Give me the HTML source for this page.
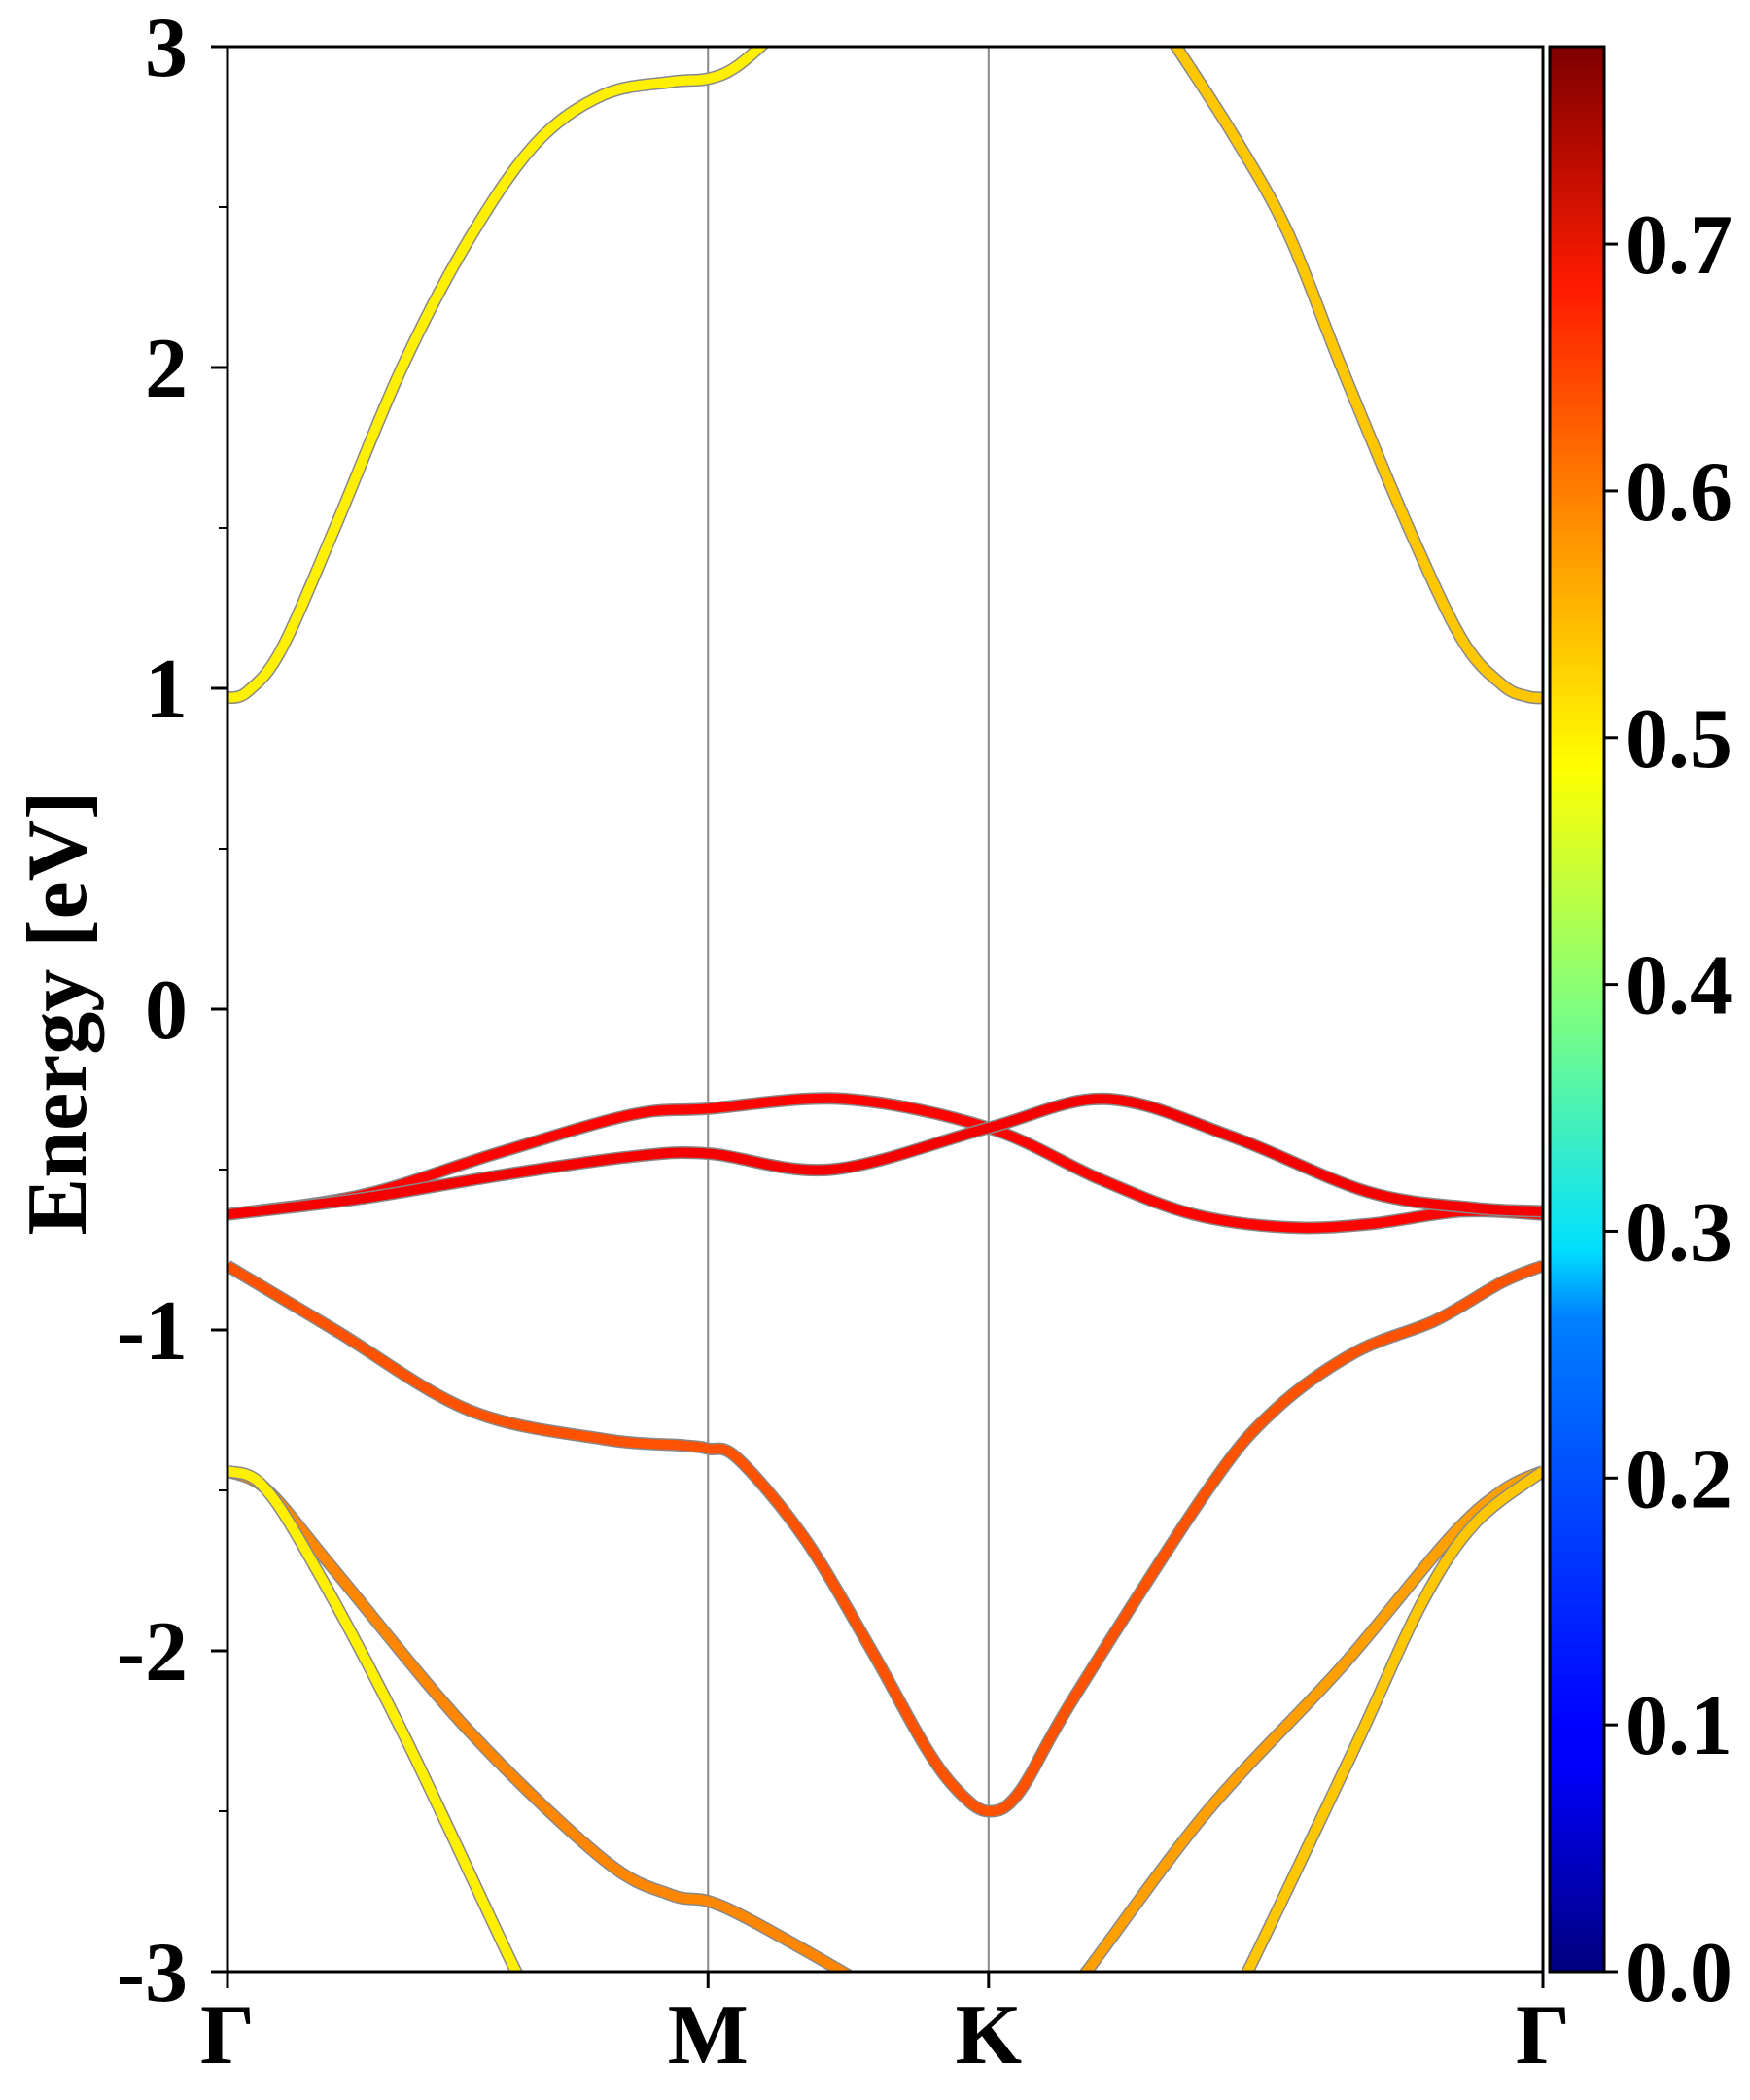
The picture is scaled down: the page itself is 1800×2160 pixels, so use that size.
<!DOCTYPE html>
<html><head><meta charset="utf-8"><style>
html,body{margin:0;padding:0;background:#fff;width:1800px;height:2160px;overflow:hidden}
svg{display:block}
text{font-family:"Liberation Serif",serif;font-weight:bold;fill:#000}
</style></head><body>
<svg id="chart" width="1800" height="2160" viewBox="0 0 1800 2160" xmlns="http://www.w3.org/2000/svg">
<defs>
<linearGradient id="jet" x1="0" y1="1" x2="0" y2="0">
<stop offset="0" stop-color="#00007f"/><stop offset="0.11" stop-color="#0000ff"/>
<stop offset="0.125" stop-color="#0000ff"/><stop offset="0.34" stop-color="#0080ff"/>
<stop offset="0.375" stop-color="#00e0ff"/><stop offset="0.5" stop-color="#7fff7f"/>
<stop offset="0.625" stop-color="#ffff00"/><stop offset="0.75" stop-color="#ff9000"/>
<stop offset="0.875" stop-color="#ff1a00"/><stop offset="1" stop-color="#7f0000"/>
</linearGradient>
<clipPath id="plotclip"><rect x="234" y="48" width="1353" height="1980"/></clipPath>
</defs>
<g id="grid"></g>
<g id="bands" clip-path="url(#plotclip)"></g>
<rect x="234" y="48" width="1353" height="1980" fill="none" stroke="#000" stroke-width="3"/>
<g id="axes"></g>
<text transform="translate(88,1042) rotate(-90)" text-anchor="middle" font-size="88">Energy [eV]</text>
<rect x="1594" y="48" width="56" height="1980" fill="url(#jet)" stroke="#000" stroke-width="3"/>
<g id="cbar"></g>
</svg>
<script>
const kTicks=[0,358,567,980];
const kLabels=["Γ","M","K","Γ"];
const yTicks=[-3,-2,-1,0,1,2,3];
const cbTicks=[0,0.1,0.2,0.3,0.4,0.5,0.6,0.7];
const cbMax=0.78;
const bandC1a=[[0,0.97],[15,0.99],[40,1.12],[80,1.5],[130,2.0],[180,2.4],[230,2.7],[280,2.85],[330,2.89],[358,2.9],[380,2.94],[410,3.05]];
const bandC1b=[[700,3.05],[707,3.0],[750,2.72],[790,2.42],[830,2.0],[880,1.5],[920,1.15],[950,1.01],[968,0.975],[980,0.97]];
const bandV1=[[0,-0.64],[100,-0.58],[200,-0.45],[300,-0.33],[358,-0.31],[460,-0.28],[567,-0.37],[650,-0.53],[720,-0.64],[790,-0.68],[850,-0.67],[920,-0.63],[980,-0.64]];
const bandV2=[[0,-0.64],[100,-0.59],[200,-0.52],[300,-0.46],[358,-0.45],[450,-0.5],[567,-0.37],[655,-0.28],[750,-0.4],[850,-0.57],[930,-0.62],[980,-0.63]];
const bandV3=[[0,-0.8],[80,-1.0],[180,-1.25],[280,-1.34],[340,-1.36],[358,-1.37],[380,-1.4],[430,-1.65],[480,-2.0],[520,-2.3],[545,-2.44],[567,-2.5],[590,-2.44],[630,-2.15],[730,-1.5],[780,-1.25],[840,-1.07],[900,-0.97],[950,-0.85],[980,-0.8]];
const bandV4a=[[0,-1.44],[30,-1.5],[80,-1.75],[180,-2.25],[280,-2.65],[330,-2.76],[358,-2.78],[390,-2.84],[458,-3.0],[480,-3.06]];
const bandV4b=[[620,-3.1],[640,-3.0],[730,-2.5],[830,-2.05],[910,-1.65],[950,-1.5],[980,-1.44]];
const bandV5a=[[0,-1.44],[25,-1.48],[60,-1.7],[130,-2.25],[215,-3.0],[230,-3.1]];
const bandV5b=[[745,-3.1],[760,-3.0],[840,-2.3],[890,-1.85],[930,-1.6],[980,-1.44]];
const bandWeights=[0.5,0.53,0.68,0.69,0.62,0.58,0.56,0.5,0.53];
const bandList=[bandC1a,bandC1b,bandV1,bandV2,bandV3,bandV4a,bandV4b,bandV5a,bandV5b];
const bandNames=["conduction-band-left","conduction-band-right","valence-band-1","valence-band-2","valence-band-3","valence-band-4-left","valence-band-4-right","valence-band-5-left","valence-band-5-right"];

const X0=234,X1=1587,Y0=48,Y1=2028;
const xs=k=>X0+k/980*(X1-X0);
const ys=e=>Y1-(e+3)/6*(Y1-Y0);
const NS="http://www.w3.org/2000/svg";
function mk(tag,attrs,parent){const el=document.createElementNS(NS,tag);for(const a in attrs)el.setAttribute(a,attrs[a]);parent.appendChild(el);return el;}
function jet(v){const t=Math.max(0,Math.min(1,v/cbMax));
 const r=Math.min(4*t-1.5,-4*t+4.5),g=Math.min(4*t-0.5,-4*t+3.5),b=Math.min(4*t+0.5,-4*t+2.5);
 const c=x=>Math.round(255*Math.max(0,Math.min(1,x)));return `rgb(${c(r)},${c(g)},${c(b)})`;}
function pathD(pts){const p=pts.map(q=>[xs(q[0]),ys(q[1])]);let d=`M${p[0][0]},${p[0][1]}`;
 for(let i=0;i<p.length-1;i++){const a=p[i-1]||p[i],b=p[i],c=p[i+1],e=p[i+2]||c;
  d+=` C${b[0]+(c[0]-a[0])/6},${b[1]+(c[1]-a[1])/6} ${c[0]-(e[0]-b[0])/6},${c[1]-(e[1]-b[1])/6} ${c[0]},${c[1]}`;}return d;}

const grid=document.getElementById('grid'),axes=document.getElementById('axes'),bands=document.getElementById('bands'),cbar=document.getElementById('cbar');
kTicks.forEach((k,i)=>{
 if(i>0&&i<kTicks.length-1){const l=mk('line',{x1:xs(k),x2:xs(k),y1:Y0,y2:Y1,stroke:'#888','stroke-width':2},grid);
  
  }
 const t=mk('line',{x1:xs(k),x2:xs(k),y1:Y1,y2:Y1+17,stroke:'#000','stroke-width':3},axes);
 
 
 const tx=mk('text',{x:xs(k),y:2122,'text-anchor':'middle','font-size':88},axes);tx.textContent=kLabels[i];
 
 
});
yTicks.forEach(e=>{
 const t=mk('line',{x1:X0-17,x2:X0,y1:ys(e),y2:ys(e),stroke:'#000','stroke-width':3},axes);
 
 
 const tx=mk('text',{x:193,y:ys(e)+30,'text-anchor':'end','font-size':88},axes);tx.textContent=String(e);
 
 
 if(e<3){const m=mk('line',{x1:X0-9,x2:X0,y1:ys(e+0.5),y2:ys(e+0.5),stroke:'#000','stroke-width':2},axes);
  
  }
});
bandList.forEach((b,i)=>{
 const d=pathD(b);
 const o=mk('path',{d:d,fill:'none',stroke:'#888','stroke-width':13},bands);
 
 
 const p=mk('path',{d:d,fill:'none',stroke:jet(bandWeights[i]),'stroke-width':10},bands);
 
 
});
cbTicks.forEach(v=>{const y=Y1-v/cbMax*(Y1-Y0);
 const t=mk('line',{x1:1650,x2:1664,y1:y,y2:y,stroke:'#000','stroke-width':3},cbar);
 
 
 const tx=mk('text',{x:1672,y:y+30,'font-size':88},cbar);tx.textContent=v.toFixed(1);
 
 
});
</script>
</body></html>
